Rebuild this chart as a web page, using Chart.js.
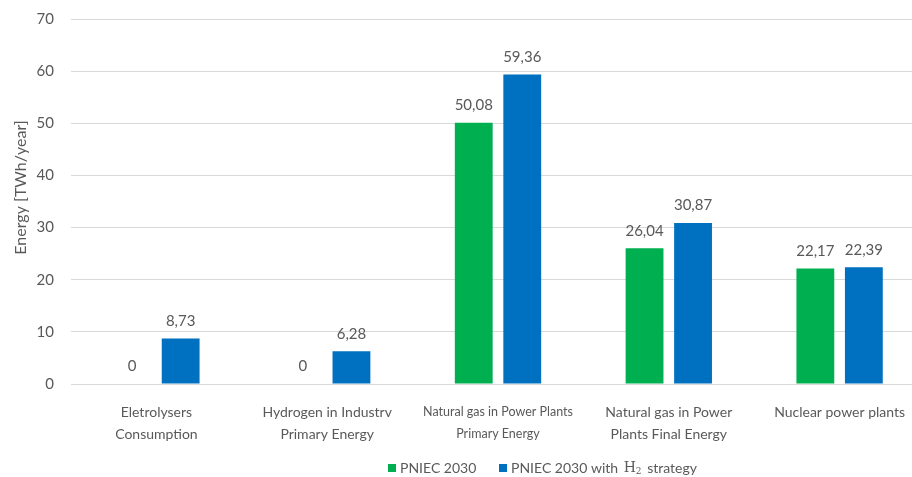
<!DOCTYPE html>
<html>
<head>
<meta charset="utf-8">
<script src="https://cdn.jsdelivr.net/npm/chart.js@4/dist/chart.umd.min.js"></script>
<style>
  html, body { margin: 0; padding: 0; background: #ffffff; overflow: hidden; }
  #wrap { position: relative; width: 912px; height: 477px; overflow: hidden; }
  #chart { position: absolute; left: 0; top: -7px; }
</style>
</head>
<body>
<div id="wrap"><canvas id="chart" width="926" height="484"></canvas></div>
<script>
// Categories (multi-line labels as arrays)
const categories = [
  ['Eletrolysers', 'Consumption'],
  ['Hydrogen in Industrv', 'Primary Energy'],
  ['Natural gas in Power Plants', 'Primary Energy'],
  ['Natural gas in Power', 'Plants Final Energy'],
  'Nuclear power plants'
];

// Series values [TWh/year]
const pniec2030 = [0, 0, 50.08, 26.04, 22.17];
const pniec2030H2 = [8.73, 6.28, 59.36, 30.87, 22.39];

// Axis
const yTicks = [0, 10, 20, 30, 40, 50, 60, 70];
const yTitle = 'Energy [TWh/year]';

const TEXT = '#595959';
const GREEN = '#00B050';
const BLUE = '#0070C0';
const FONT = 'Lato, "Open Sans", sans-serif';

const fmt = v => String(v).replace('.', ',');

// Value labels above each bar
const valueLabels = {
  id: 'valueLabels',
  afterDatasetsDraw(chart) {
    const ctx = chart.ctx;
    ctx.save();
    ctx.font = '15px ' + FONT;
    ctx.fillStyle = TEXT;
    ctx.textAlign = 'center';
    ctx.textBaseline = 'bottom';
    chart.data.datasets.forEach((ds, di) => {
      chart.getDatasetMeta(di).data.forEach((bar, i) => {
        ctx.fillText(fmt(ds.data[i]), bar.x, bar.y - 10);
      });
    });
    ctx.restore();
  }
};

// Y-axis title and bottom legend
const extras = {
  id: 'extras',
  afterDraw(chart) {
    const ctx = chart.ctx;
    const area = chart.chartArea;
    ctx.save();
    // axis title
    ctx.fillStyle = TEXT;
    ctx.font = '16px ' + FONT;
    ctx.textAlign = 'center';
    ctx.textBaseline = 'middle';
    ctx.translate(21, (area.top + area.bottom) / 2 - 14);
    ctx.rotate(-Math.PI / 2);
    ctx.fillText(yTitle, 0, 0);
    ctx.restore();

    // legend
    ctx.save();
    const ly = area.bottom + 84;
    ctx.textBaseline = 'middle';
    ctx.textAlign = 'left';
    ctx.font = '14px ' + FONT;
    ctx.fillStyle = GREEN;
    ctx.fillRect(388, ly - 4, 8, 8);
    ctx.fillStyle = TEXT;
    ctx.fillText(chart.data.datasets[0].label, 400, ly);

    ctx.fillStyle = BLUE;
    ctx.fillRect(499, ly - 4, 8, 8);
    ctx.fillStyle = TEXT;
    let x = 511;
    const part1 = 'PNIEC 2030 with ';
    ctx.fillText(part1, x, ly);
    x += ctx.measureText(part1).width + 2;
    ctx.font = '14px "DejaVu Serif", "Liberation Serif", serif';
    ctx.fillText('H', x, ly);
    x += ctx.measureText('H').width;
    ctx.font = '9px "DejaVu Serif", "Liberation Serif", serif';
    ctx.fillText('2', x, ly + 4);
    x += ctx.measureText('2').width + 2;
    ctx.font = '14px ' + FONT;
    ctx.fillText(' strategy', x, ly);
    ctx.restore();
  }
};

new Chart(document.getElementById('chart'), {
  type: 'bar',
  data: {
    labels: categories,
    datasets: [
      { label: 'PNIEC 2030', data: pniec2030, backgroundColor: GREEN,
        categoryPercentage: 0.568, barPercentage: 0.78 },
      { label: 'PNIEC 2030 with H\u2082 strategy', data: pniec2030H2, backgroundColor: BLUE,
        categoryPercentage: 0.568, barPercentage: 0.78 }
    ]
  },
  options: {
    responsive: false,
    devicePixelRatio: 1,
    animation: false,
    layout: { padding: { top: 11, right: 1, left: 0, bottom: 0 } },
    plugins: {
      legend: { display: false },
      tooltip: { enabled: false }
    },
    scales: {
      x: {
        grid: { display: false },
        border: { display: false },
        afterFit(scale) { scale.height = 93; },
        ticks: {
          color: TEXT,
          maxRotation: 0,
          minRotation: 0,
          autoSkip: false,
          padding: 9,
          font: (c) => c.index === 2
            ? { family: FONT, size: 12.5, lineHeight: 1.75 }
            : { family: FONT, size: 14, lineHeight: 1.6 }
        }
      },
      y: {
        min: 0,
        max: 70,
        afterFit(scale) { scale.width = 71; },
        afterBuildTicks(scale) { scale.ticks = yTicks.map(v => ({ value: v })); },
        grid: { color: '#d9d9d9', lineWidth: 1, drawTicks: false },
        border: { display: false },
        ticks: { color: TEXT, padding: 17, font: { family: FONT, size: 15 } }
      }
    }
  },
  plugins: [valueLabels, extras]
});
</script>
</body>
</html>
